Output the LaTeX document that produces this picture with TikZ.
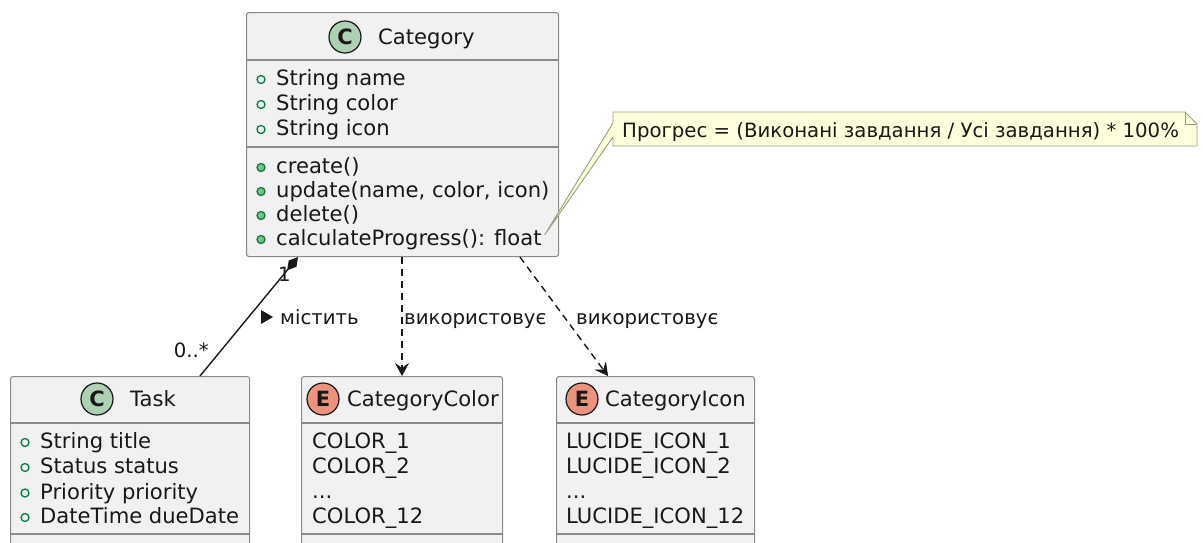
\documentclass[tikz,border=0pt]{standalone}
\usepackage{fontspec}
\setmainfont{DejaVu Sans}
\usetikzlibrary{arrows.meta,calc}

\definecolor{boxfill}{HTML}{F1F1F1}
\definecolor{boxline}{HTML}{8A8A8A}
\definecolor{ink}{HTML}{181818}
\definecolor{classc}{HTML}{ADD1B2}
\definecolor{enume}{HTML}{EB937F}
\definecolor{notefill}{HTML}{FEFFDD}
\definecolor{noteline}{HTML}{9C9C84}
\definecolor{visline}{HTML}{038048}
\definecolor{visfill}{HTML}{84BE84}

\tikzset{
  umlbox/.style={draw=boxline, fill=boxfill, line width=1.1pt, rounded corners=2.5pt,
    anchor=north west, inner sep=0pt},
  sep/.style={draw=boxline, line width=1.1pt},
  member/.style={anchor=base west, inner sep=0pt, text=ink,
    font=\fontsize{21.1}{25}\selectfont},
  lbl/.style={anchor=base west, inner sep=0pt, text=ink,
    font=\fontsize{19.7}{23}\selectfont},
  kindmark/.style={circle, draw=ink, line width=1.2pt, minimum size=32pt, inner sep=0pt,
    text=ink, font=\fontsize{21}{21}\selectfont\bfseries},
  fieldmark/.style={circle, draw=visline, line width=1.3pt, minimum size=8pt, inner sep=0pt},
  methodmark/.style={fieldmark, fill=visfill},
  link/.style={draw=ink, line width=1.4pt},
  usage/.style={link, dash pattern=on 7pt off 5pt,
    -{Stealth[length=13pt,width=14pt,inset=5pt,line width=0.5pt]}},
}

\begin{document}
\begin{tikzpicture}[x=1pt, y=-1pt]
\useasboundingbox (0,0) rectangle (1203,542);
\clip (0,0) rectangle (1203,542);

% ---------- Category ----------
\node[umlbox, minimum width=312pt, minimum height=244pt] (cat) at (246,12) {};
\draw[sep] (246,60) -- (558,60);
\draw[sep, line width=1.6pt] (246,147) -- (558,147);
\node[kindmark, fill=classc] (catk) at (345,37) {C};
\node[member] (catt) at (378,44.5) {Category};
\foreach \y/\txt [count=\i] in {78/String name, 103/String color, 128/String icon} {
  \node[fieldmark] (cfm\i) at (261,\y+1.5) {};
  \node[member] (cf\i) at (276,\y+7.5) {\txt};
}
\foreach \y/\txt [count=\i] in {166/create(), 190/{update(name, color, icon)}, 214/delete(), 238/{calculateProgress(): float}} {
  \node[methodmark] (cmm\i) at (261,\y+1.5) {};
  \node[member] (cm\i) at (276,\y+7.5) {\txt};
}

% ---------- Task ----------
\node[umlbox, minimum width=239pt, minimum height=220pt] (task) at (10,376) {};
\draw[sep] (10,423) -- (249,423);
\draw[sep] (10,534) -- (249,534);
\node[kindmark, fill=classc] (taskk) at (97,399) {C};
\node[member] (taskt) at (130,406.5) {Task};
\foreach \y/\txt [count=\i] in {441/String title, 466/Status status, 491.5/Priority priority, 516/DateTime dueDate} {
  \node[fieldmark] (tfm\i) at (25,\y+1.5) {};
  \node[member] (tf\i) at (40,\y+7.5) {\txt};
}

% ---------- CategoryColor ----------
\node[umlbox, minimum width=201pt, minimum height=220pt] (col) at (301,376) {};
\draw[sep] (301,423) -- (502,423);
\draw[sep] (301,534) -- (502,534);
\node[kindmark, fill=enume] (colk) at (323,399) {E};
\node[member] (colt) at (347,406.5) {CategoryColor};
\node[member] (cv1) at (312,448.5) {COLOR\_1};
\node[member] (cv2) at (312,473.5) {COLOR\_2};
\node[member] (cv3) at (312,498) {...};
\node[member] (cv4) at (312,523.5) {COLOR\_12};

% ---------- CategoryIcon ----------
\node[umlbox, minimum width=198pt, minimum height=220pt] (ico) at (556,376) {};
\draw[sep] (556,423) -- (754,423);
\draw[sep] (556,534) -- (754,534);
\node[kindmark, fill=enume] (icok) at (582,399) {E};
\node[member] (icot) at (605,406.5) {CategoryIcon};
\node[member] (iv1) at (566,448.5) {LUCIDE\_ICON\_1};
\node[member] (iv2) at (566,473.5) {LUCIDE\_ICON\_2};
\node[member] (iv3) at (566,498) {...};
\node[member] (iv4) at (566,523.5) {LUCIDE\_ICON\_12};

% ---------- note on calculateProgress ----------
\coordinate (notetip) at ($(cm4.east)+(3,-5)$);
\draw[draw=noteline, fill=notefill, line width=0.9pt, line join=round]
  (613,112) -- (1185,112) -- (1197,124) -- (1197,146) -- (613,146) -- (613,137)
  -- (notetip) -- (613,123) -- cycle;
\draw[draw=noteline, line width=0.9pt] (1185,112) -- (1185,124) -- (1197,124);
\node[lbl] (note) at (622,137) {Прогрес = (Виконані завдання / Усі завдання) * 100\%};

% ---------- connectors ----------
\coordinate (compA) at ($(cat.south west)+(52,0)$);
\coordinate (compB) at ($(task.north west)+(190,0)$);
\draw[link, {Diamond[length=17pt,width=10pt]}-] (compA) -- (compB);
\node[lbl] (one) at (278,281) {1};
\node[lbl, anchor=base east] (many) at (209,357) {0..*};
\fill[ink] (261,310) -- (273,317) -- (261,324) -- cycle;
\node[lbl] (contains) at (280,324) {містить};

\coordinate (useA) at ($(cat.south west)+(156,0)$);
\coordinate (useB) at ($(col.north west)+(101,0)$);
\draw[usage] (useA) -- (useB);
\node[lbl] (uses1) at (404,324) {використовує};

\coordinate (useC) at ($(cat.south west)+(274,0)$);
\coordinate (useD) at ($(ico.north west)+(52,0)$);
\draw[usage] (useC) -- (useD);
\node[lbl] (uses2) at (576,324) {використовує};
\end{tikzpicture}
\end{document}
